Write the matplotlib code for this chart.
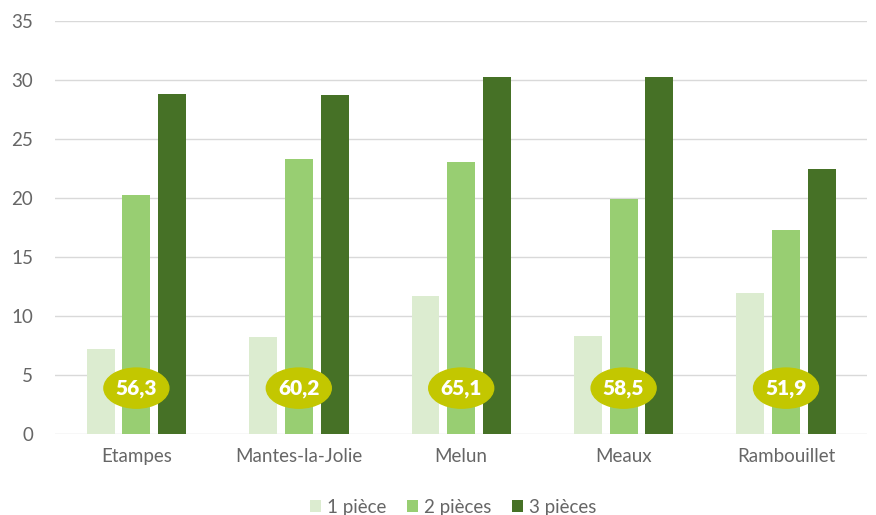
import matplotlib
matplotlib.use("Agg")
import matplotlib.pyplot as plt
from matplotlib.patches import Ellipse
import numpy as np

plt.rcParams['font.family'] = ['Lato', 'DejaVu Sans']

villes = ["Etampes", "Mantes-la-Jolie", "Melun", "Meaux", "Rambouillet"]
une_piece = [7.2, 8.2, 11.7, 8.3, 12.0]
deux_pieces = [20.3, 23.3, 23.1, 19.9, 17.3]
trois_pieces = [28.8, 28.7, 30.3, 30.3, 22.5]
totaux = ["56,3", "60,2", "65,1", "58,5", "51,9"]
series_labels = ["1 pièce", "2 pièces", "3 pièces"]
couleurs = ["#dcecd0", "#98ce72", "#467126"]

fig = plt.figure(figsize=(8.76, 5.15), dpi=100)
ax = fig.add_axes([0.063, 0.157, 0.927, 0.802])

x = np.arange(len(villes))
w = 0.172
step = 0.22
for k, (vals, lab, c) in enumerate(zip([une_piece, deux_pieces, trois_pieces], series_labels, couleurs)):
    ax.bar(x + (k - 1) * step, vals, width=w, color=c, label=lab, zorder=2)

for xi, t in zip(x, totaux):
    ax.add_patch(Ellipse((xi, 3.9), 0.40, 3.4, color="#c3c700", zorder=3))
    ax.text(xi, 3.85, t, ha="center", va="center", color="white",
            fontsize=15, fontweight="heavy", zorder=4)

ax.set_xlim(-0.5, len(villes) - 0.5)
ax.set_ylim(0, 35)
ax.set_yticks(range(0, 36, 5))
ax.set_xticks(x)
ax.set_xticklabels(villes)
ax.grid(axis="y", color="#d9d9d9", linewidth=1, zorder=0)
for s in ax.spines.values():
    s.set_visible(False)
ax.tick_params(length=0, labelsize=13.5, colors="#666666")
ax.tick_params(axis="y", pad=16)
ax.tick_params(axis="x", pad=10)

ax.legend(loc="upper center", bbox_to_anchor=(0.49, -0.115), ncol=3, frameon=False,
          fontsize=13.5, labelcolor="#666666", handlelength=0.6, handleheight=0.6,
          handletextpad=0.3, columnspacing=1.1)

fig.savefig("out.png", dpi=100)
